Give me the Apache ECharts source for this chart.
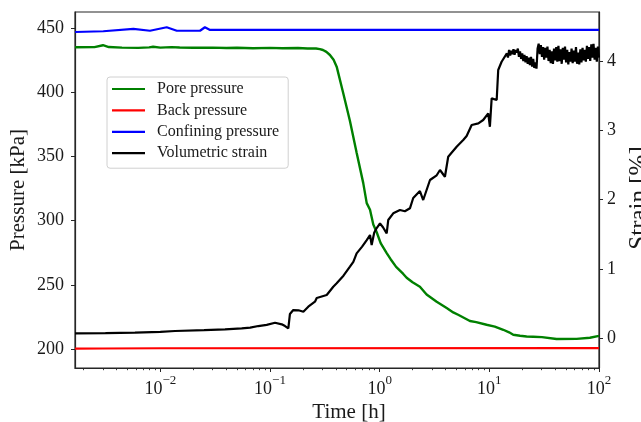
<!DOCTYPE html>
<html><head><meta charset="utf-8">
<script src="https://cdn.jsdelivr.net/npm/echarts@6/dist/echarts.min.js"></script>
<style>html,body{margin:0;padding:0;background:#fff}#c{width:641px;height:422px}</style>
</head><body><div id="c"></div>
<script>
// ---- data (time in hours) ----
const poreTime = [0.00167,0.00251,0.0030,0.00339,0.00447,0.0063,0.0079,0.0086,0.010,0.0126,0.015,0.02,0.03,0.04,0.05,0.07,0.1,0.13,0.18,0.22,0.263,0.285,0.304,0.327,0.352,0.380,0.4055,0.4656,0.5358,0.6166,0.7079,0.762,0.8166,0.875,0.9397,1.021,1.159,1.259,1.413,1.641,1.762,1.995,2.328,2.679,3.311,4.083,4.688,5.248,6.209,6.653,7.586,9.441,11.22,13.40,15.14,16.52,19.05,21.88,25.12,30.2,30.97,41.02,62.52,82.6,100];
const porePressure = [435.2,435.3,436.8,435.4,434.9,434.7,435.1,435.6,434.9,435.3,435.0,434.8,434.9,434.6,434.8,434.5,434.7,434.4,434.6,434.3,434.2,433.8,433.1,431.6,429.2,425.5,420.1,399.4,377.8,352.9,329.5,313.7,308.5,297.0,291.0,282.6,274.8,270.0,264.0,258.5,255.5,252.0,248.5,242.5,236.8,231.9,228.5,226.5,223.2,221.8,221.0,218.9,217.5,215.0,213.0,211.1,210.3,209.8,209.6,209.3,208.3,207.8,207.9,208.8,210.2];

const backTime = [0.00167,0.003,0.01,100];
const backPressure = [200.3,200.4,200.6,200.7];

const confTime = [0.00167,0.00302,0.00568,0.00805,0.01143,0.01413,0.0230,0.0255,0.0284,1.0,100];
const confPressure = [447.1,447.7,449.5,448.1,450.8,448.1,448.1,450.8,448.7,448.7,448.7];

const strainTime = [0.00167,0.00316,0.00587,0.01,0.0136,0.0251,0.0389,0.0552,0.066,0.0782,0.0933,0.1112,0.128,0.1371,0.1469,0.152,0.163,0.182,0.2014,0.2234,0.257,0.2667,0.3289,0.3776,0.4055,0.4677,0.5358,0.5754,0.6166,0.6918,0.762,0.8166,0.8453,0.8913,0.9397,1.007,1.072,1.159,1.197,1.33,1.531,1.698,1.888,2.023,2.328,2.495,2.877,3.311,3.548,3.936,4.217,5.035,5.781,6.209,6.902,7.943,8.79,9.772,10.12,10.50,11.67,12.05,12.94,
  14.45,14.79,15.14,15.49,15.85,16.22,16.6,16.98,17.38,17.78,18.2,18.62,19.05,19.5,19.95,20.42,20.89,21.38,21.88,22.39,22.91,23.44,23.99,24.55,25.12,25.7,26.3,26.92,27.54,28.18,28.84,29.51,30.2,30.9,31.62,32.36,33.11,33.88,34.67,35.48,36.31,37.15,38.02,38.9,39.81,40.74,41.69,42.66,43.65,44.67,45.71,46.77,47.86,48.98,50.12,51.29,52.48,53.7,54.95,56.23,57.54,58.88,60.26,61.66,63.1,64.57,66.07,67.61,69.18,70.79,72.44,74.13,75.86,77.62,79.43,81.28,83.18,85.11,87.1,89.13,91.2,93.33,95.5,97.72,100];
const volumetricStrain = [0.068,0.07,0.077,0.09,0.101,0.115,0.126,0.140,0.15,0.173,0.19,0.221,0.198,0.173,0.140,0.347,0.404,0.40,0.380,0.452,0.524,0.578,0.621,0.741,0.790,0.90,1.030,1.10,1.223,1.32,1.415,1.487,1.343,1.52,1.588,1.656,1.60,1.512,1.704,1.801,1.848,1.83,1.873,2.022,2.123,1.993,2.282,2.35,2.426,2.329,2.618,2.762,2.859,2.917,3.076,3.10,3.148,3.245,3.051,3.461,3.437,3.870,3.990,
  4.11,4.05,4.16,4.08,4.15,4.10,4.17,4.09,4.16,4.12,4.18,4.06,4.14,4.03,4.11,4.00,4.09,3.98,4.07,3.96,4.05,3.94,4.06,3.92,4.03,3.90,3.98,3.89,4.18,4.25,4.10,4.23,4.06,4.20,4.02,4.19,4.05,4.21,4.00,4.16,3.97,4.14,3.96,4.18,4.01,4.20,3.99,4.22,4.00,4.17,3.96,4.19,4.02,4.21,3.98,4.16,3.95,4.13,3.99,4.18,3.97,4.15,3.99,4.20,3.96,4.12,3.95,4.17,3.98,4.19,4.01,4.16,3.99,4.22,4.03,4.20,4.00,4.24,4.05,4.25,4.02,4.19,3.99,4.21,4.05];

const timeTickExponents = [-2,-1,0,1,2];
const pressureTicks = [200,250,300,350,400,450];
const strainTicks = [0,1,2,3,4];
const seriesNames = ['Pore pressure','Back pressure','Confining pressure','Volumetric strain'];
const axisNames = {x:'Time [h]', yLeft:'Pressure [kPa]', yRight:'Strain [%]'};

// ---- build ----
const FONT = 'Liberation Serif';
const xMin = Math.log10(0.001667), xMax = 2;
const pairs = (t, v) => t.map((x, i) => [Math.log10(x), v[i]]);
const minorTicks = [];
for (let n = -3; n <= 1; n++) for (let k = 2; k <= 9; k++) {
  const v = Math.log10(k * Math.pow(10, n));
  if (v >= xMin && v <= xMax) minorTicks.push(v);
}
const supText = e => (e < 0 ? '\u2212' + (-e) : String(e));
const dark = '#262626';

const chart = echarts.init(document.getElementById('c'), null, {renderer: 'canvas'});
chart.setOption({
  animation: false,
  backgroundColor: '#fff',
  grid: {left: 75, right: 42, top: 12, bottom: 54, outerBoundsMode: 'none', containLabel: false,
         show: true, borderColor: dark, borderWidth: 1.2, backgroundColor: 'transparent'},
  legend: {
    data: seriesNames.map(n => ({name: n, icon: 'rect'})), orient: 'vertical', left: 107, top: 77,
    itemWidth: 33, itemHeight: 2.2, itemGap: 5.4,
    padding: [4, 9, 7, 5],
    borderColor: '#d0d0d0', borderWidth: 1, borderRadius: 3, backgroundColor: 'rgba(255,255,255,0.85)',
    textStyle: {fontFamily: FONT, fontSize: 16, color: '#1a1a1a', lineHeight: 16, padding: [0, 0, 0, 7]}
  },
  xAxis: [{
    type: 'value', min: xMin, max: xMax, position: 'bottom',
    name: axisNames.x, nameLocation: 'middle', nameGap: 34, nameMoveOverlap: false,
    nameTextStyle: {fontFamily: FONT, fontSize: 21, color: '#1a1a1a', padding: [0, 0, 0, 24]},
    axisLine: {show: true, onZero: false, lineStyle: {color: dark, width: 1.2}},
    axisTick: {show: true, length: 4, lineStyle: {color: dark, width: 1}, customValues: timeTickExponents},
    axisLabel: {
      customValues: timeTickExponents, margin: 6, color: '#1a1a1a',
      formatter: v => '{b|10}{s|' + supText(Math.round(v)) + '}',
      rich: {
        b: {fontFamily: FONT, fontSize: 18, lineHeight: 24, verticalAlign: 'bottom', color: '#1a1a1a'},
        s: {fontFamily: FONT, fontSize: 13, lineHeight: 14, verticalAlign: 'top', color: '#1a1a1a'}
      }
    },
    splitLine: {show: false}
  }, {
    type: 'value', min: xMin, max: xMax, position: 'bottom', gridIndex: 0,
    axisLine: {show: false, onZero: false},
    axisTick: {show: true, length: 2.2, lineStyle: {color: dark, width: 0.9}, customValues: minorTicks},
    axisLabel: {show: false}, splitLine: {show: false}
  }],
  yAxis: [{
    type: 'value', min: 185.2, max: 462.7, position: 'left',
    name: axisNames.yLeft, nameLocation: 'middle', nameGap: 46, nameRotate: 90, nameMoveOverlap: false,
    nameTextStyle: {fontFamily: FONT, fontSize: 21, color: '#1a1a1a'},
    axisLine: {show: true, onZero: false, lineStyle: {color: dark, width: 1.2}},
    axisTick: {show: true, length: 4, lineStyle: {color: dark}, customValues: pressureTicks},
    axisLabel: {customValues: pressureTicks, margin: 11, fontFamily: FONT, fontSize: 18, color: '#1a1a1a'},
    splitLine: {show: false}
  }, {
    type: 'value', min: -0.433, max: 4.708, position: 'right',
    name: axisNames.yRight, nameLocation: 'middle', nameGap: 28, nameRotate: 90, nameMoveOverlap: false,
    nameTextStyle: {fontFamily: FONT, fontSize: 25, color: '#1a1a1a', padding: [0, 16, 0, 0]},
    axisLine: {show: true, onZero: false, lineStyle: {color: dark, width: 1.2}},
    axisTick: {show: true, length: 4, lineStyle: {color: dark}, customValues: strainTicks},
    axisLabel: {customValues: strainTicks, margin: 8, fontFamily: FONT, fontSize: 18, color: '#1a1a1a'},
    splitLine: {show: false}
  }],
  series: [
    {name: seriesNames[0], type: 'line', data: pairs(poreTime, porePressure), yAxisIndex: 0, showSymbol: false, symbol: 'none', lineStyle: {color: '#008000', width: 2.4}, itemStyle: {color: '#008000'}, z: 3},
    {name: seriesNames[1], type: 'line', data: pairs(backTime, backPressure), yAxisIndex: 0, showSymbol: false, symbol: 'none', lineStyle: {color: '#ff0000', width: 2.2}, itemStyle: {color: '#ff0000'}, z: 3},
    {name: seriesNames[2], type: 'line', data: pairs(confTime, confPressure), yAxisIndex: 0, showSymbol: false, symbol: 'none', lineStyle: {color: '#0000ff', width: 2.2}, itemStyle: {color: '#0000ff'}, z: 3},
    {name: seriesNames[3], type: 'line', data: pairs(strainTime, volumetricStrain), yAxisIndex: 1, showSymbol: false, symbol: 'none', lineStyle: {color: '#000', width: 2.2}, itemStyle: {color: '#000'}, z: 4}
  ]
});
</script></body></html>
